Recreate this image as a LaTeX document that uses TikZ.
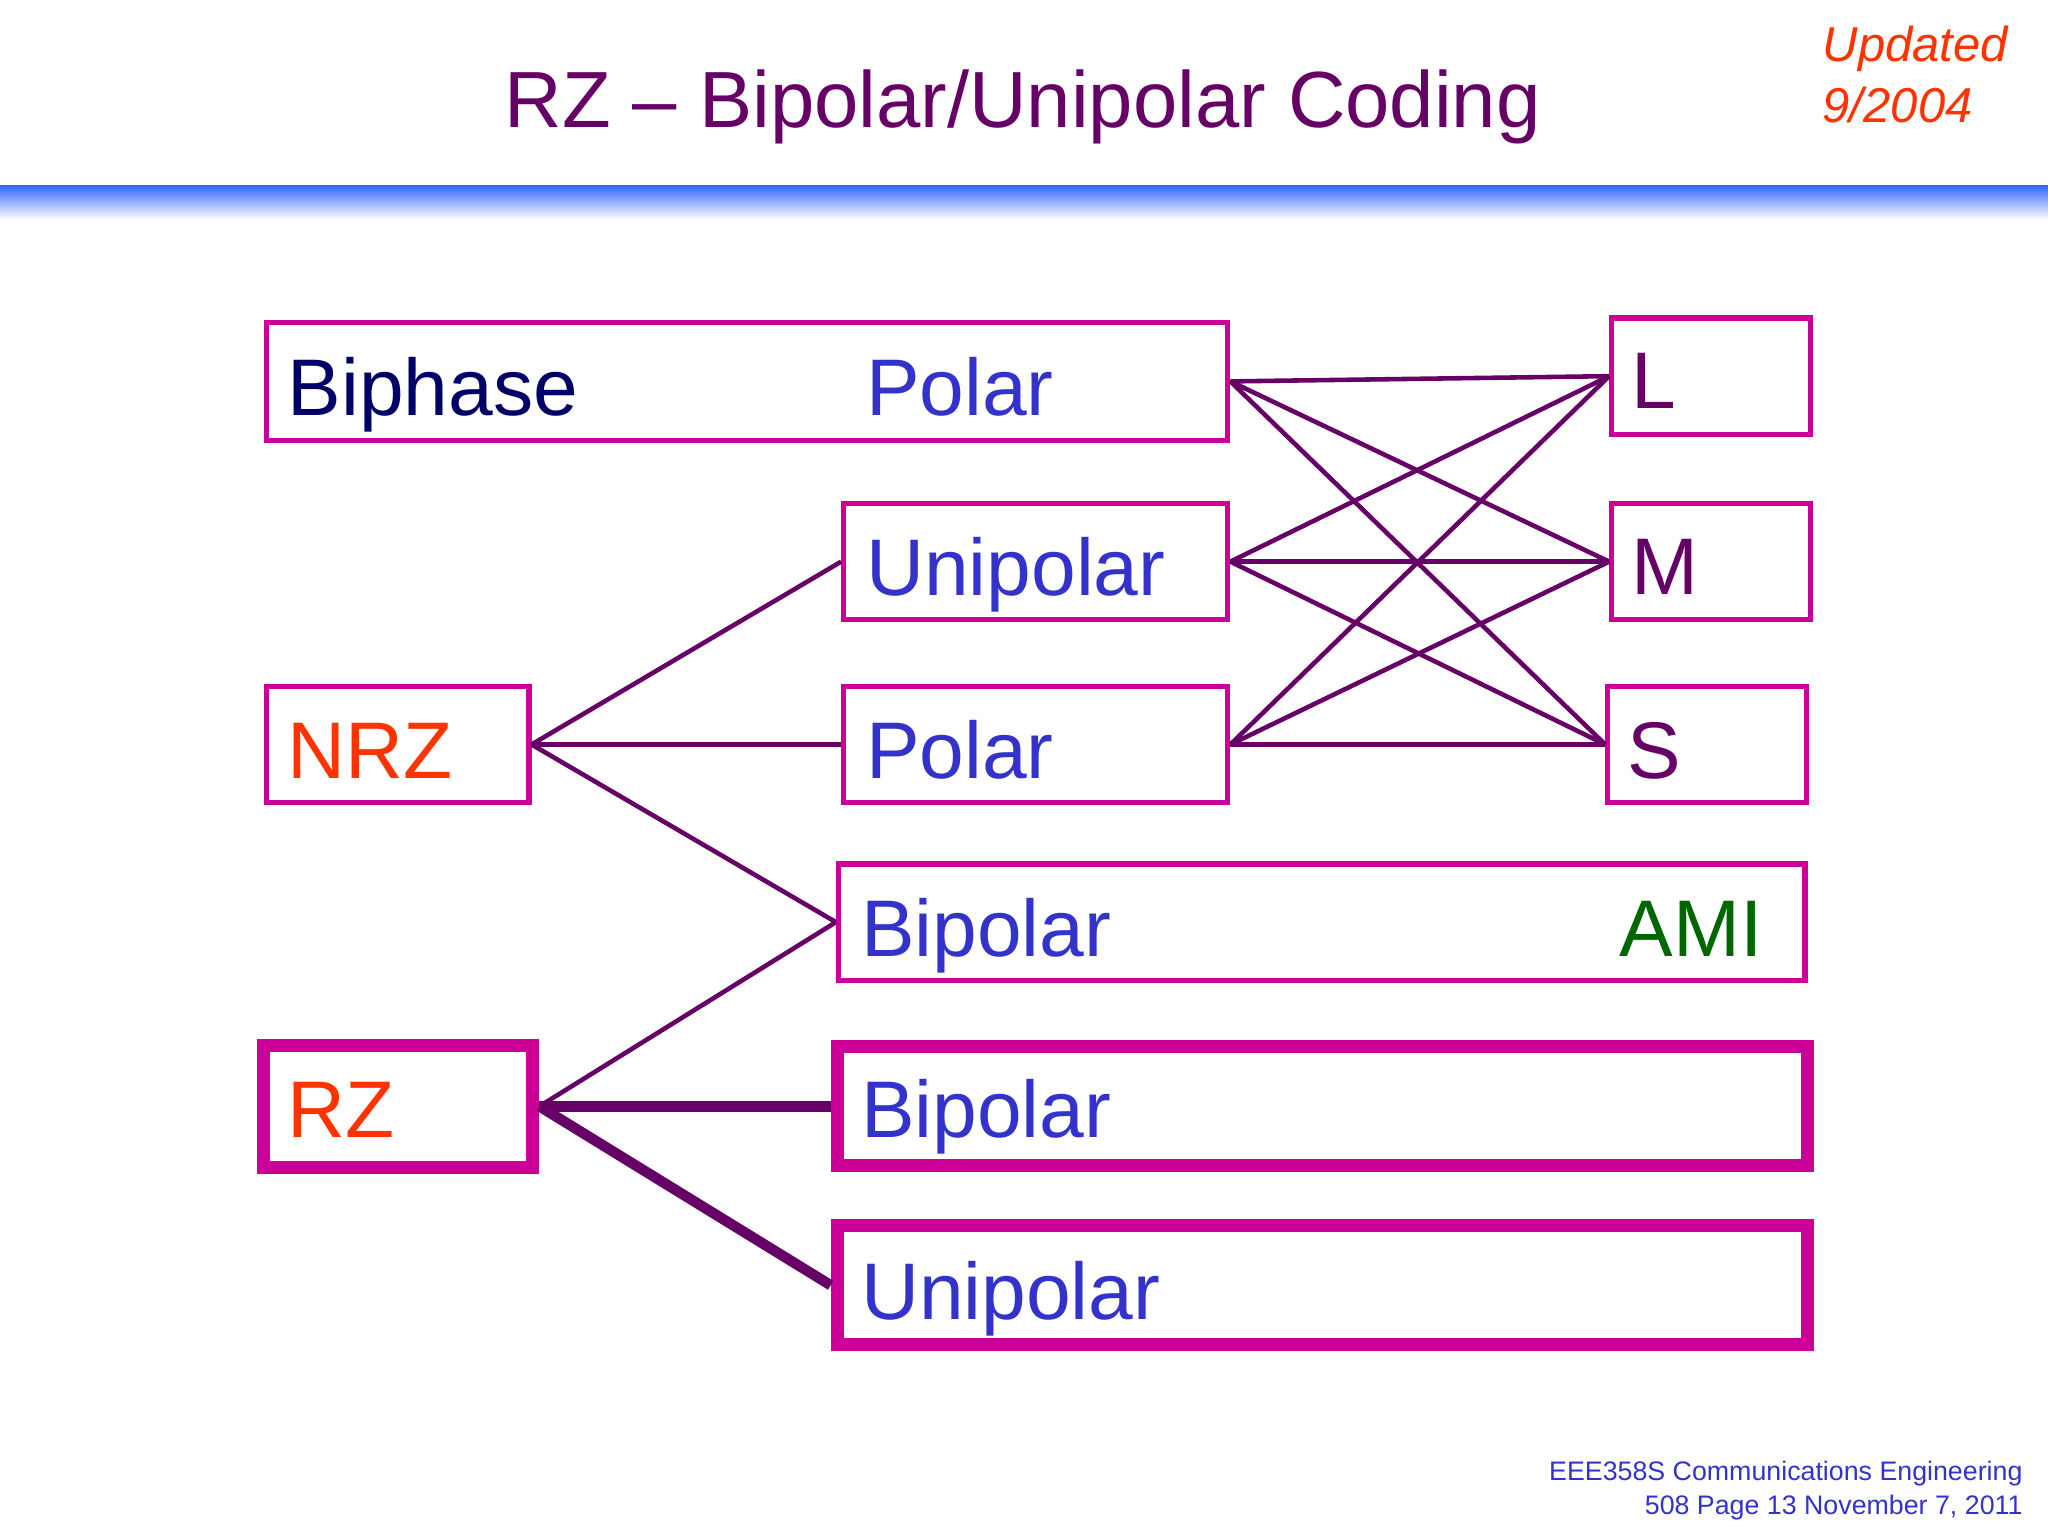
\documentclass[tikz,border=0pt]{standalone}
\usepackage{fontspec}
\setmainfont{Liberation Sans}
\definecolor{pur}{HTML}{660066}
\definecolor{mag}{HTML}{CC0099}
\definecolor{blu}{HTML}{3333CC}
\definecolor{nav}{HTML}{000066}
\definecolor{org}{HTML}{FF3300}
\definecolor{grn}{HTML}{006600}
\definecolor{bar}{HTML}{3366FF}
\begin{document}
\begin{tikzpicture}[x=1pt,y=-1pt,
 box/.style={draw=mag,line width=4pt,inner sep=0pt},
 tbox/.style={draw=mag,line width=10pt,inner sep=0pt},
 tx/.style={anchor=base west,inner sep=0pt,font=\fontsize{61.5}{70}\selectfont},
 ln/.style={draw=pur,line width=3.5pt},
 tk/.style={draw=pur,line width=8pt}]
\useasboundingbox[fill=white] (0,0) rectangle (1568,1176);
\shade[top color=bar,bottom color=white] (0,142) rectangle (1568,168);
\node[pur,font=\fontsize{61}{66}\selectfont] (title) at (783,82) {RZ – Bipolar/Unipolar Coding};
\node[org,anchor=west,align=left,font=\fontsize{37.5}{46}\selectfont\itshape] (upd) at (1392,57) {Updated\\9/2004};
\node[blu,anchor=east,align=right,font=\fontsize{20.5}{26}\selectfont] (foot) at (1552,1141) {EEE358S Communications Engineering\\508 Page 13 November 7, 2011};
% boxes
\node[box,minimum width=736pt,minimum height=90pt] (BP) at (572,292) {};
\node[box,minimum width=152pt,minimum height=89pt] (L) at (1310,288) {};
\node[box,minimum width=152pt,minimum height=89pt] (M) at (1310,430) {};
\node[box,minimum width=152pt,minimum height=89pt] (S) at (1307,570) {};
\node[box,minimum width=294pt,minimum height=89pt] (U1) at (793,430) {};
\node[box,minimum width=294pt,minimum height=89pt] (P1) at (793,570) {};
\node[box,minimum width=201pt,minimum height=89pt] (NRZ) at (304.5,570) {};
\node[box,minimum width=740pt,minimum height=89pt] (AMI) at (1012,706) {};
\node[tbox,minimum width=206pt,minimum height=93pt] (RZ) at (305,847) {};
\node[tbox,minimum width=743pt,minimum height=91pt] (B2) at (1012.5,847) {};
\node[tbox,minimum width=743pt,minimum height=91pt] (U2) at (1012.5,984) {};
% texts
\node[tx,nav] (t1) at (220,318) {Biphase};
\node[tx,blu] (t2) at (663,318) {Polar};
\node[tx,pur] (t3) at (1249,313) {L};
\node[tx,pur] (t4) at (1249,455) {M};
\node[tx,pur] (t5) at (1246,596) {S};
\node[tx,blu] (t6) at (663,456) {Unipolar};
\node[tx,blu] (t7) at (663,596) {Polar};
\node[tx,org] (t8) at (220,596) {NRZ};
\node[tx,blu] (t9) at (659,732) {Bipolar};
\node[tx,grn] (t10) at (1240,732) {AMI};
\node[tx,org] (t11) at (220,871) {RZ};
\node[tx,blu] (t12) at (659,871) {Bipolar};
\node[tx,blu] (t13) at (659,1010) {Unipolar};
% connectors
\draw[ln] (NRZ.east) -- (U1.west);
\draw[ln] (NRZ.east) -- (P1.west);
\draw[ln] (NRZ.east) -- (AMI.west);
\draw[ln] (RZ.east) -- (AMI.west);
\draw[tk] (RZ.east) -- (B2.west);
\draw[tk] (RZ.east) -- (U2.west);
\foreach \s in {BP,U1,P1}{
 \foreach \t in {L,M,S}{
  \draw[ln] (\s.east) -- (\t.west);
 }}
\end{tikzpicture}
\end{document}
